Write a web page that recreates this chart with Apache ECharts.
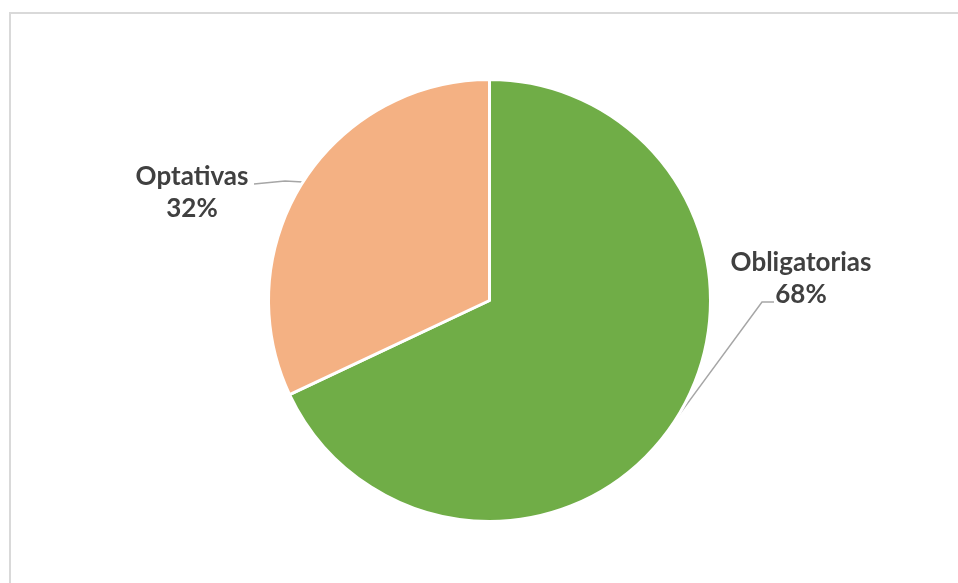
<!DOCTYPE html>
<html>
<head>
<meta charset="utf-8">
<script src="https://cdn.jsdelivr.net/npm/echarts@6/dist/echarts.min.js"></script>
<style>
html,body{margin:0;padding:0;background:#fff;}
#c{width:958px;height:583px;}
</style>
</head>
<body>
<div id="c"></div>
<script>
var categories = ['Obligatorias', 'Optativas'];
var values = [68, 32];
var colors = ['#70AD47', '#F4B183'];

var chart = echarts.init(document.getElementById('c'), null, {renderer: 'canvas'});

var labelPos = [
  {x: 801, y: 279, line: [[762, 302], [774, 302]]},
  {x: 192, y: 193, line: [[285, 181], [254, 184]]}
];

chart.setOption({
  animation: false,
  backgroundColor: '#ffffff',
  graphic: [
    {type: 'line', shape: {x1: 9, y1: 13, x2: 958, y2: 13}, style: {stroke: '#D9D9D9', lineWidth: 2}, silent: true},
    {type: 'line', shape: {x1: 10, y1: 12, x2: 10, y2: 583}, style: {stroke: '#D9D9D9', lineWidth: 2}, silent: true}
  ],
  series: [{
    type: 'pie',
    center: [489.5, 300.5],
    radius: 221,
    startAngle: 90,
    clockwise: true,
    silent: true,
    data: categories.map(function (c, i) {
      return {name: c, value: values[i], itemStyle: {color: colors[i]}};
    }),
    itemStyle: {borderColor: '#ffffff', borderWidth: 3},
    label: {
      show: true,
      formatter: '{b}\n{d}%',
      fontFamily: 'Lato',
      fontWeight: 'bold',
      fontSize: 26,
      lineHeight: 32,
      color: '#404040',
      align: 'center'
    },
    labelLine: {
      show: true,
      lineStyle: {color: '#A6A6A6', width: 1.5}
    },
    labelLayout: function (params) {
      var p = labelPos[params.dataIndex];
      var start = params.labelLinePoints ? params.labelLinePoints[0] : p.line[0];
      return {
        x: p.x,
        y: p.y,
        align: 'center',
        verticalAlign: 'middle',
        labelLinePoints: [start, p.line[0], p.line[1]]
      };
    }
  }]
});
</script>
</body>
</html>
